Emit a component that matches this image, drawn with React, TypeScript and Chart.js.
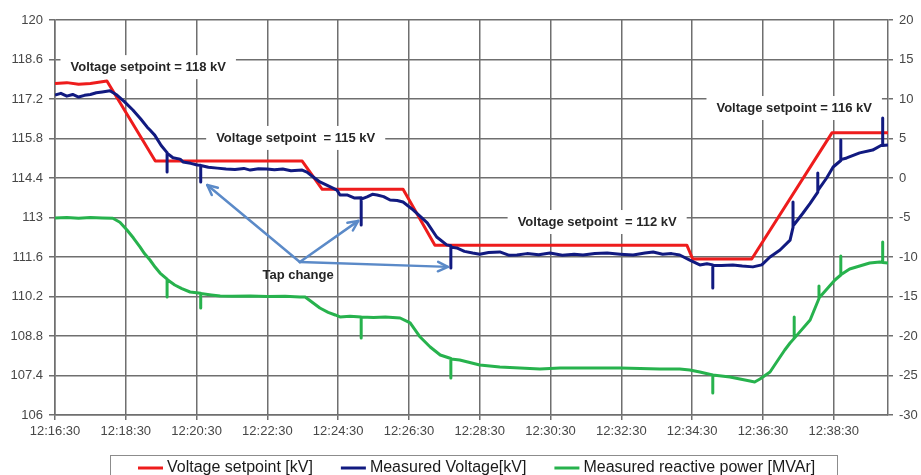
import React, { useEffect, useRef } from "react";
import { Chart, registerables } from "chart.js";

Chart.register(...registerables);

// ---- axis ticks ----
const xTickSeconds = [0, 120, 240, 360, 480, 600, 720, 840, 960, 1080, 1200, 1320];
const xTickLabels = [
  "12:16:30", "12:18:30", "12:20:30", "12:22:30", "12:24:30", "12:26:30",
  "12:28:30", "12:30:30", "12:32:30", "12:34:30", "12:36:30", "12:38:30",
];
const xMaxSeconds = 1412;
const leftTicks = [106, 107.4, 108.8, 110.2, 111.6, 113, 114.4, 115.8, 117.2, 118.6, 120];
const rightTicks = [-30, -25, -20, -15, -10, -5, 0, 5, 10, 15, 20];

// ---- series (time in seconds after 12:16:30) ----
const setpointTimes = [0, 20, 40, 60, 88, 170, 419, 453, 590, 644, 1071, 1081, 1181, 1317, 1412];
const setpointKV = [117.75, 117.78, 117.72, 117.75, 117.84, 115.0, 115.0, 114.0, 114.0, 112.02, 112.02, 111.53, 111.53, 116.0, 116.0];

const voltageTimes = [
  0, 10, 20, 30, 40, 50, 60, 70, 80, 93, 105, 118, 132, 145, 156, 161, 169, 180,
  190, 190, 190, 200, 212, 217, 230, 241, 247, 247, 247, 260, 275, 290, 305, 320,
  331, 345, 359, 372, 386, 400, 419, 427, 440, 449, 465, 478, 483, 495, 508, 519,
  519, 519, 529, 538, 546, 557, 568, 580, 590, 607, 620, 631, 647, 664, 671, 671,
  671, 681, 694, 708, 720, 735, 754, 770, 783, 800, 820, 839, 860, 880, 895, 915,
  936, 958, 980, 1000, 1014, 1030, 1045, 1059, 1076, 1093, 1105, 1115, 1115, 1115,
  1130, 1149, 1165, 1183, 1198, 1212, 1229, 1246, 1251, 1251, 1251, 1268, 1280,
  1293, 1293, 1293, 1308, 1319, 1332, 1332, 1332, 1342, 1364, 1386, 1400, 1403,
  1403, 1403, 1412,
];
const voltageKV = [
  117.34, 117.4, 117.3, 117.36, 117.27, 117.33, 117.36, 117.42, 117.45, 117.49, 117.34, 117.1, 116.81, 116.5, 116.21, 116.1, 115.92, 115.55,
  115.3, 114.61, 115.28, 115.12, 115.07, 114.97, 114.92, 114.86, 114.85, 114.26, 114.84, 114.78, 114.75, 114.72, 114.7, 114.74,
  114.68, 114.73, 114.72, 114.69, 114.72, 114.66, 114.68, 114.61, 114.4, 114.26, 114.1, 113.97, 113.8, 113.8, 113.69, 113.7,
  112.73, 113.65, 113.73, 113.82, 113.8, 113.74, 113.62, 113.6, 113.55, 113.27, 113.02, 112.81, 112.31, 112.03, 112.0, 111.21,
  111.95, 111.92, 111.8, 111.74, 111.7, 111.76, 111.78, 111.66, 111.67, 111.72, 111.68, 111.74, 111.66, 111.7, 111.67, 111.72,
  111.74, 111.7, 111.67, 111.74, 111.78, 111.7, 111.72, 111.67, 111.49, 111.32, 111.36, 111.32, 110.5, 111.3,
  111.3, 111.32, 111.28, 111.25, 111.32, 111.6, 111.85, 112.2, 112.65, 113.55, 112.7, 113.16, 113.5,
  113.9, 114.58, 113.95, 114.4, 114.79, 115.02, 115.75, 115.05, 115.11, 115.29, 115.39, 115.55, 115.57,
  116.53, 115.55, 115.57,
];

const reactiveTimes = [
  0, 20, 40, 60, 80, 98, 110, 122, 133, 144, 152, 161, 170, 178, 190, 190, 190,
  203, 215, 229, 247, 247, 247, 265, 280, 300, 331, 360, 390, 415, 424, 432, 449,
  463, 475, 483, 500, 519, 519, 519, 540, 560, 585, 602, 619, 636, 653, 671, 671,
  671, 686, 720, 754, 788, 822, 856, 890, 924, 958, 992, 1025, 1059, 1076, 1093,
  1115, 1115, 1115, 1144, 1178, 1186, 1195, 1212, 1229, 1237, 1246, 1253, 1253,
  1253, 1280, 1295, 1295, 1295, 1322, 1332, 1332, 1332, 1347, 1364, 1381, 1398,
  1403, 1403, 1403, 1412,
];
const reactiveMVAr = [
  -5.06, -5.0, -5.1, -5.0, -5.05, -5.1, -5.6, -6.58, -7.6, -8.73, -9.6, -10.38, -11.3, -12.03, -12.8, -15.06, -12.85,
  -13.54, -14.0, -14.43, -14.6, -16.46, -14.62, -14.8, -14.94, -14.98, -14.94, -15.0, -14.96, -15.06, -15.06, -15.5, -16.46,
  -17.0, -17.34, -17.59, -17.5, -17.6, -20.25, -17.6, -17.65, -17.6, -17.72, -18.35, -20.13, -21.39, -22.41, -22.85, -25.32,
  -22.9, -23.04, -23.67, -23.92, -24.05, -24.18, -24.05, -24.05, -24.05, -24.05, -24.1, -24.18, -24.18, -24.3, -24.56,
  -24.94, -27.22, -24.94, -25.19, -25.7, -25.82, -25.44, -24.56, -22.66, -21.77, -20.89, -20.3, -17.59,
  -20.3, -17.97, -15.25, -13.67, -15.2, -12.91, -12.28, -9.87, -12.25, -11.52, -11.14, -10.76, -10.63,
  -10.66, -8.1, -10.7, -10.76,
];

// ---- annotations ----
const labelTexts = [
  "Voltage setpoint = 118 kV",
  "Voltage setpoint  = 115 kV",
  "Voltage setpoint  = 112 kV",
  "Voltage setpoint = 116 kV",
  "Tap change",
];
const labelTimes = [158, 408, 919, 1253, 412];
const labelKV = [118.33, 115.82, 112.84, 116.88, 110.93];
const labelBoxed = [true, true, true, true, false];

const arrowOriginTime = 415;
const arrowOriginKV = 111.42;
const arrowTipTimes = [258, 514, 666];
const arrowTipKV = [114.15, 112.88, 111.25];

const legendNames = ["Voltage setpoint [kV]", "Measured Voltage[kV]", "Measured reactive power [MVAr]"];
const seriesColors = ["#ee1c1c", "#111a80", "#27b24d"];

const FONT = '"Liberation Sans", Arial, sans-serif';
const GRID = "#6f6f6f";
const TICKTXT = "#474747";

const toPoints = (ts: number[], vs: number[]) => ts.map((t, i) => ({ x: t, y: vs[i] }));

const annotationPlugin = {
  id: "annotationPlugin",
  beforeDatasetsDraw(chart: any) {
    const ctx = chart.ctx;
    const xs = chart.scales.x;
    const ys = chart.scales.y;
    ctx.save();
    ctx.font = `bold 13px ${FONT}`;
    ctx.textAlign = "center";
    ctx.textBaseline = "middle";
    labelTexts.forEach((txt, i) => {
      const px = xs.getPixelForValue(labelTimes[i]);
      const py = ys.getPixelForValue(labelKV[i]);
      const w = ctx.measureText(txt).width;
      if (labelBoxed[i]) {
        ctx.fillStyle = "#ffffff";
        ctx.fillRect(px - w / 2 - 10, py - 12, w + 20, 24);
      }
      ctx.fillStyle = "#262626";
      ctx.fillText(txt, px, py);
    });
    ctx.restore();
  },
  afterDatasetsDraw(chart: any) {
    const ctx = chart.ctx;
    const xs = chart.scales.x;
    const ys = chart.scales.y;
    const ox = xs.getPixelForValue(arrowOriginTime);
    const oy = ys.getPixelForValue(arrowOriginKV);
    ctx.save();
    ctx.strokeStyle = "#5b8ac8";
    ctx.lineWidth = 2.5;
    ctx.lineCap = "round";
    ctx.lineJoin = "round";
    arrowTipTimes.forEach((t, i) => {
      const tx = xs.getPixelForValue(t);
      const ty = ys.getPixelForValue(arrowTipKV[i]);
      ctx.beginPath();
      ctx.moveTo(ox, oy);
      ctx.lineTo(tx, ty);
      ctx.stroke();
      const ang = Math.atan2(ty - oy, tx - ox);
      const L = 11;
      const a = Math.PI / 7;
      ctx.beginPath();
      ctx.moveTo(tx - L * Math.cos(ang - a), ty - L * Math.sin(ang - a));
      ctx.lineTo(tx, ty);
      ctx.lineTo(tx - L * Math.cos(ang + a), ty - L * Math.sin(ang + a));
      ctx.stroke();
    });
    ctx.restore();
  },
  afterDraw(chart: any) {
    const ctx = chart.ctx;
    ctx.save();
    ctx.strokeStyle = "#8c8c8c";
    ctx.lineWidth = 1;
    ctx.strokeRect(110.5, 455.5, 727, 40);
    ctx.font = `16px ${FONT}`;
    ctx.textBaseline = "middle";
    ctx.textAlign = "left";
    let x = 138;
    const y = 468;
    legendNames.forEach((name, i) => {
      ctx.strokeStyle = seriesColors[i];
      ctx.lineWidth = 3;
      ctx.beginPath();
      ctx.moveTo(x, y);
      ctx.lineTo(x + 25, y);
      ctx.stroke();
      ctx.fillStyle = "#1a1a1a";
      ctx.fillText(name, x + 29, y);
      x += 29 + ctx.measureText(name).width + 28;
    });
    ctx.restore();
  },
};

export default function App() {
  const ref = useRef<HTMLCanvasElement | null>(null);

  useEffect(() => {
    if (!ref.current) return;
    const chart = new Chart(ref.current, {
      type: "line",
      data: {
        datasets: [
          {
            label: legendNames[0],
            data: toPoints(setpointTimes, setpointKV),
            borderColor: seriesColors[0],
            borderWidth: 3,
            pointRadius: 0,
            yAxisID: "y",
            order: 1,
          },
          {
            label: legendNames[1],
            data: toPoints(voltageTimes, voltageKV),
            borderColor: seriesColors[1],
            borderWidth: 3,
            pointRadius: 0,
            yAxisID: "y",
            order: 0,
          },
          {
            label: legendNames[2],
            data: toPoints(reactiveTimes, reactiveMVAr),
            borderColor: seriesColors[2],
            borderWidth: 3,
            pointRadius: 0,
            yAxisID: "y1",
            order: 2,
          },
        ],
      },
      options: {
        animation: false,
        responsive: false,
        maintainAspectRatio: false,
        layout: { padding: { top: 20, left: 0, right: 0, bottom: 0 } },
        plugins: { legend: { display: false }, tooltip: { enabled: false } },
        elements: { line: { tension: 0, borderJoinStyle: "round" } },
        scales: {
          x: {
            type: "linear",
            min: 0,
            max: xMaxSeconds,
            afterBuildTicks: (s: any) => {
              s.ticks = xTickSeconds.map((v) => ({ value: v }));
            },
            afterFit: (s: any) => {
              s.height = 60;
            },
            grid: { color: GRID, lineWidth: 1.5, tickLength: 5 },
            border: { color: GRID, width: 1.5 },
            ticks: {
              autoSkip: false,
              maxRotation: 0,
              padding: 4,
              color: TICKTXT,
              font: { family: FONT, size: 13 },
              callback: (_v: any, i: number) => xTickLabels[i],
            },
          },
          y: {
            type: "linear",
            position: "left",
            min: 106,
            max: 120,
            afterBuildTicks: (s: any) => {
              s.ticks = leftTicks.map((v) => ({ value: v }));
            },
            afterFit: (s: any) => {
              s.width = 55;
            },
            grid: { color: GRID, lineWidth: 1.5, tickLength: 6 },
            border: { color: GRID, width: 1.5 },
            ticks: {
              padding: 6,
              color: TICKTXT,
              font: { family: FONT, size: 13 },
              callback: (v: any) => String(v),
            },
          },
          y1: {
            type: "linear",
            position: "right",
            min: -30,
            max: 20,
            afterBuildTicks: (s: any) => {
              s.ticks = rightTicks.map((v) => ({ value: v }));
            },
            afterFit: (s: any) => {
              s.width = 33;
            },
            grid: { drawOnChartArea: false, color: GRID, lineWidth: 1.5, tickLength: 5 },
            border: { color: GRID, width: 1.5 },
            ticks: {
              padding: 6,
              color: TICKTXT,
              font: { family: FONT, size: 13 },
              callback: (v: any) => String(v),
            },
          },
        },
      },
      plugins: [annotationPlugin],
    } as any);
    return () => chart.destroy();
  }, []);

  return (
    <div style={{ position: "fixed", left: 0, top: 0, width: 921, height: 475, background: "#fff" }}>
      <canvas ref={ref} width={921} height={475} style={{ display: "block", width: 921, height: 475 }} />
    </div>
  );
}
